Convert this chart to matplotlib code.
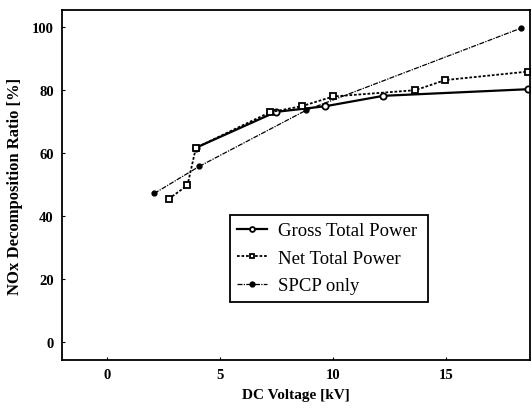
import matplotlib
matplotlib.use('Agg')
import matplotlib.pyplot as plt

plt.rcParams['font.family'] = ['Liberation Serif', 'DejaVu Serif']

# Gross Total Power
x_gross = [3.92, 7.46, 9.65, 12.21, 18.6]
y_gross = [61.7, 73.1, 74.9, 78.2, 80.3]

# Net Total Power
x_net = [2.71, 3.55, 3.92, 7.20, 8.60, 10.0, 13.63, 14.94, 18.6]
y_net = [45.4, 49.8, 61.7, 73.0, 74.9, 78.0, 80.0, 83.2, 85.9]

# SPCP only
x_spcp = [2.08, 4.07, 8.79, 18.3]
y_spcp = [47.2, 55.8, 73.6, 99.7]

xticks = [0, 5, 10, 15]
yticks = [0, 20, 40, 60, 80, 100]

fig = plt.figure(figsize=(5.32, 4.14), dpi=100)
ax = fig.add_axes([0.1165, 0.128, 0.88, 0.845])

ax.plot(x_gross, y_gross, '-', color='black', lw=1.6, marker='o', ms=4.5,
        mfc='white', mec='black', mew=1.3, label='Gross Total Power')
ax.plot(x_net, y_net, color='black', lw=1.3, ls=(0, (1.5, 1)), marker='s', ms=4.5,
        mfc='white', mec='black', mew=1.3, label='Net Total Power')
ax.plot(x_spcp, y_spcp, color='black', lw=0.9, ls=(0, (4, 1, 1, 1)), marker='o', ms=3.5,
        mfc='black', mec='black', label='SPCP only')

ax.set_xlim(-2.0, 18.7)
ax.set_ylim(-5.7, 105.4)
ax.set_xticks(xticks)
ax.set_yticks(yticks)
ax.tick_params(direction='in', length=2, width=0.8, labelsize=10.5, pad=6)
for lab in ax.get_xticklabels() + ax.get_yticklabels():
    lab.set_fontweight('bold')
for sp in ax.spines.values():
    sp.set_linewidth(1.3)

ax.set_xlabel('DC Voltage [kV]', fontsize=11, fontweight='bold', labelpad=5)
ax.set_ylabel('NOx Decomposition Ratio [%]', fontsize=12, fontweight='bold', labelpad=6)

leg = ax.legend(loc='lower left', bbox_to_anchor=(0.358, 0.167, 0.423, 0.253), mode='expand',
                fancybox=False, edgecolor='black', framealpha=1, fontsize=13.5,
                handlelength=1.6, borderpad=0.4, labelspacing=0.55, handletextpad=0.6,
                borderaxespad=0)
leg.get_frame().set_linewidth(1.3)
for h in leg.legend_handles:
    h.set_markersize(3.5)

fig.savefig('out.png', dpi=100)
